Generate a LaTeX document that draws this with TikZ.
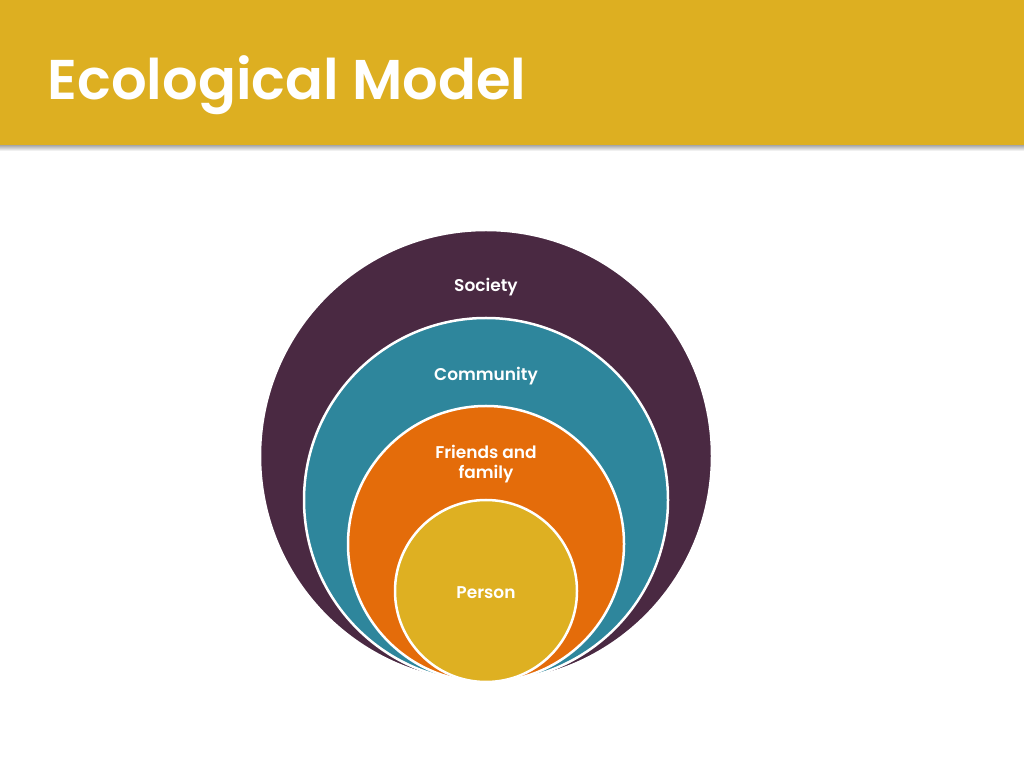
\documentclass[tikz,border=0pt]{standalone}
\usepackage{fontspec}
\setmainfont{Poppins}[BoldFont={Poppins SemiBold}]
\usepackage{tikz}
\usetikzlibrary{positioning}
\definecolor{headgold}{RGB}{221,175,33}
\definecolor{socpurple}{RGB}{74,41,66}
\definecolor{comteal}{RGB}{46,134,156}
\definecolor{famorange}{RGB}{228,108,10}
\definecolor{pergold}{RGB}{222,176,34}

\begin{document}
\begin{tikzpicture}[
    x=1pt,y=1pt,
    ring/.style={circle,draw=white,line width=2.5pt,inner sep=0pt},
    lbl/.style={text=white,font=\fontsize{17}{20}\selectfont\bfseries,align=center}
]
\useasboundingbox (0,0) rectangle (1024,768);
\fill[white] (0,0) rectangle (1024,768);

% Header band
\shade[top color=black!35,bottom color=white] (0,623) rectangle (1024,617);
\fill[headgold] (0,623) rectangle (1024,768);
\node[anchor=base west,text=white,font=\fontsize{56}{60}\selectfont\bfseries] (title) at (44,668) {Ecological Model};

% Circles
\node[ring,fill=socpurple,minimum size=452pt] (society) at (486,312) {};
\node[ring,fill=comteal,minimum size=364pt] (community) at (486,268) {};
\node[ring,fill=famorange,minimum size=276pt] (friends) at (486,224) {};
\node[ring,fill=pergold,minimum size=182pt] (person) at (486,177) {};

% Labels
\node[lbl] (societylbl) at ([yshift=-58pt]society.north) {Society};
\node[lbl] (communitylbl) at ([yshift=-59pt]community.north) {Community};
\node[lbl] (friendslbl) at ([yshift=-59pt]friends.north) {Friends and\\family};
\node[lbl] (personlbl) at ([yshift=-2pt]person) {Person};

\end{tikzpicture}
\end{document}
